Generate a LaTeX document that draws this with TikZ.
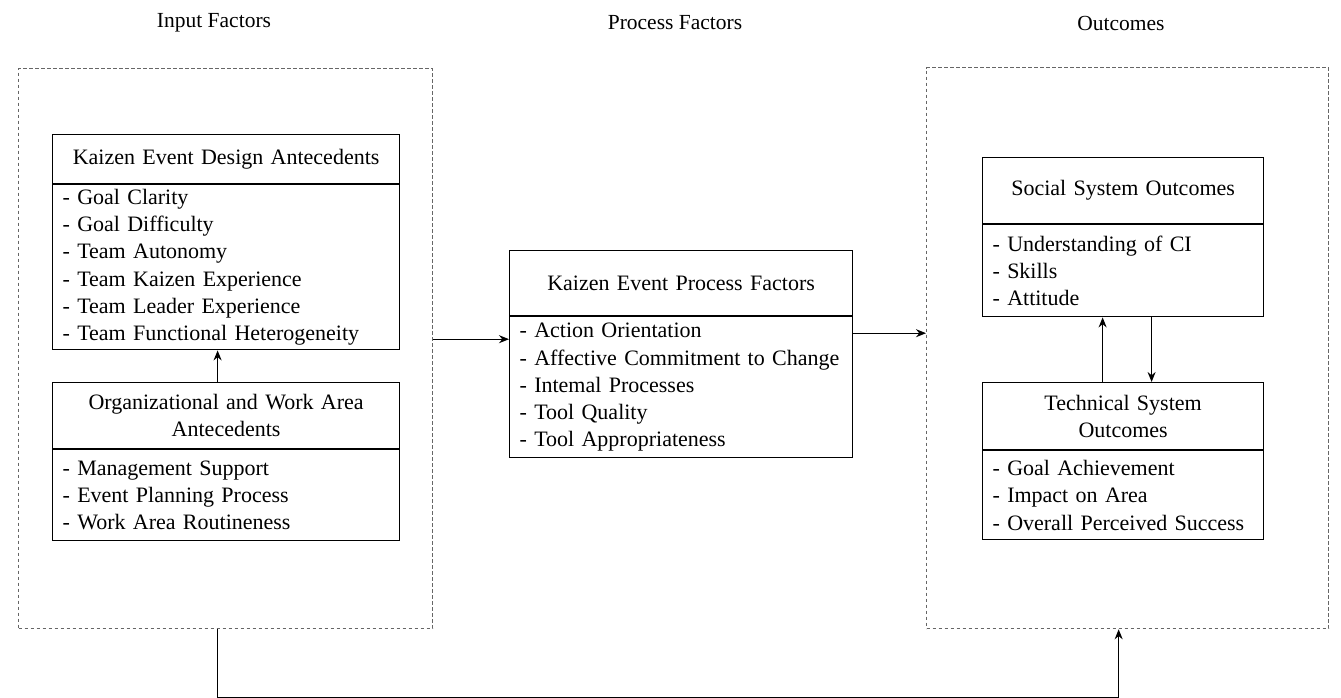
\documentclass[tikz,border=0pt]{standalone}
\usepackage{fontspec}
\setmainfont{Liberation Serif}
\usetikzlibrary{positioning,arrows.meta}
\tikzset{
  zone/.style={draw=black!60,dash pattern=on 3.5pt off 2.5pt,line width=1.3pt,inner sep=0pt,anchor=north west},
  head/.style={draw,line width=1.2pt,align=center,inner xsep=10pt,inner ysep=0pt,anchor=north west},
  items/.style={draw,line width=1.2pt,align=left,inner xsep=10pt,inner ysep=0pt},
  title/.style={font=\fontsize{21.5}{25}\selectfont},
}

\begin{document}
\begin{tikzpicture}[x=1pt,y=-1pt,>={Stealth[length=10pt,width=8pt]},line width=1.3pt,font=\fontsize{22}{27.2}\selectfont]
	\useasboundingbox (0,0) rectangle (1341,698);

	\node[title] (inlabel) at (214,23) {Input Factors};
	\node[title] (proclabel) at (675,23) {Process Factors};
	\node[title] (outlabel) at (1121,23) {Outcomes};

	\node[zone,minimum width=414pt,minimum height=560pt] (input) at (18,68) {};
	\node[zone,minimum width=402pt,minimum height=561pt] (output) at (926,67) {};

	\node[head,text width=327pt,minimum height=49pt] (design) at (52,134) {Kaizen Event Design Antecedents};
	\node[items,text width=327pt,minimum height=165pt,below=0pt of design] (designlist) {- Goal Clarity\\- Goal Difficulty\\- Team Autonomy\\- Team Kaizen Experience\\- Team Leader Experience\\- Team Functional Heterogeneity};
	\node[head,text width=327pt,minimum height=66pt] (org) at (52,382) {Organizational and Work Area\\Antecedents};
	\node[items,text width=327pt,minimum height=91pt,below=0pt of org] (orglist) {- Management Support\\- Event Planning Process\\- Work Area Routineness};

	\node[head,text width=323pt,minimum height=65pt] (proc) at (509,250) {Kaizen Event Process Factors};
	\node[items,text width=323pt,minimum height=141pt,below=0pt of proc] (proclist) {- Action Orientation\\- Affective Commitment to Change\\- Intemal Processes\\- Tool Quality\\- Tool Appropriateness};

	\node[head,text width=261pt,minimum height=66pt] (social) at (982,157) {Social System Outcomes};
	\node[items,text width=261pt,minimum height=92pt,below=0pt of social] (sociallist) {- Understanding of CI\\- Skills\\- Attitude};
	\node[head,text width=261pt,minimum height=67pt] (tech) at (982,382) {Technical System\\Outcomes};
	\node[items,text width=261pt,minimum height=89pt,below=0pt of tech] (techlist) {- Goal Achievement\\- Impact on Area\\- Overall Perceived Success};

	\coordinate (pin) at ([yshift=-23pt]proclist.north west);
	\coordinate (pout) at ([yshift=-17pt]proclist.north east);

	\draw[->] ([xshift=-8.5pt]org.north) -- ([xshift=-8.5pt]designlist.south);
	\draw[->] (pin -| input.east) -- (pin);
	\draw[->] (pout) -- (pout -| output.west);
	\draw[->] ([xshift=-20.5pt]tech.north) -- ([xshift=-20.5pt]sociallist.south);
	\draw[->] ([xshift=28.5pt]sociallist.south) -- ([xshift=28.5pt]tech.north);
	\draw[->] ([xshift=-8pt]input.south) -- ++(0,68) -| ([xshift=-9pt]output.south);
\end{tikzpicture}
\end{document}
